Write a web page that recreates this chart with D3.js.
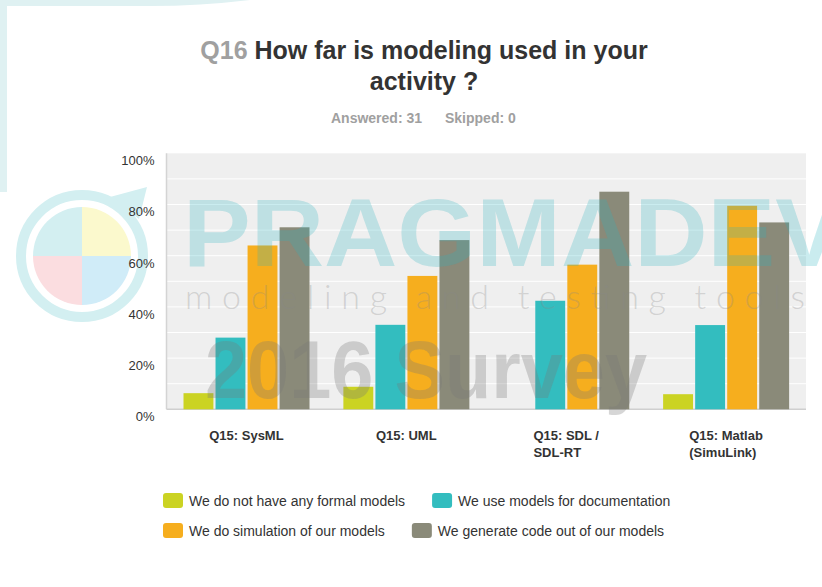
<!DOCTYPE html>
<html><head><meta charset="utf-8">
<script src="https://cdn.jsdelivr.net/npm/d3@7"></script>
<style>
html,body{margin:0;padding:0;background:#fff;}
svg{display:block;}
text{font-family:"Liberation Sans",Arial,sans-serif;}
</style></head>
<body><svg id="chart" width="822" height="587"></svg>
<script>
// ---- data ----
const categories = ["Q15: SysML", "Q15: UML", "Q15: SDL / SDL-RT", "Q15: Matlab (SimuLink)"];
const categoryLines = [["Q15: SysML"], ["Q15: UML"], ["Q15: SDL /", "SDL-RT"], ["Q15: Matlab", "(SimuLink)"]];
const seriesNames = ["We do not have any formal models", "We use models for documentation",
                     "We do simulation of our models", "We generate code out of our models"];
const seriesColors = ["#cbd323", "#33bdbf", "#f6ae1e", "#8a8a79"];
const noFormalModels = [6.3, 8.8, 0, 5.9];
const documentation  = [28.0, 33.0, 42.4, 32.9];
const simulation     = [64.0, 52.1, 56.5, 79.5];
const codeGeneration = [71.1, 66.1, 85.0, 73.0];
const seriesValues = [noFormalModels, documentation, simulation, codeGeneration];
const yTicks = [0, 20, 40, 60, 80, 100];
const gridTicks = [10, 20, 30, 40, 50, 60, 70, 80, 90];

const svg = d3.select("#chart");

// ---- background watermark (logo, strips) ----
const bgG = svg.append("g");
bgG.append("rect").attr("x", 0).attr("y", 0).attr("width", 7).attr("height", 192).attr("fill", "#dff1f2");
bgG.append("path").attr("d", "M0,0 L250,0 Q200,6 150,6 L0,6 Z").attr("fill", "#dff1f2");
const logo = bgG.append("g").attr("transform", "translate(82,256)");
logo.append("path").attr("d", "M28,-59 L65,-69 L57,-37 Z").attr("fill", "#d3eff1");
logo.append("circle").attr("r", 61).attr("fill", "none").attr("stroke", "#d3eff1").attr("stroke-width", 10);
const quadColors = ["#fbf9cd", "#d0ecf8", "#fbdde0", "#d3eff1"];
const arc = d3.arc().innerRadius(0).outerRadius(49);
quadColors.forEach((c, i) => {
  logo.append("path").attr("d", arc({startAngle: i * Math.PI / 2, endAngle: (i + 1) * Math.PI / 2})).attr("fill", c);
});

// ---- titles ----
const title = svg.append("text").attr("x", 424).attr("y", 59).attr("text-anchor", "middle")
  .style("font-size", "25px").style("font-weight", "bold");
title.append("tspan").attr("fill", "#a0a0a0").text("Q16 ");
title.append("tspan").attr("fill", "#333").text("How far is modeling used in your");
svg.append("text").attr("x", 424).attr("y", 90).attr("text-anchor", "middle")
  .style("font-size", "25px").style("font-weight", "bold").attr("fill", "#333").text("activity ?");
svg.append("text").attr("x", 331).attr("y", 123).style("font-size", "14px").style("font-weight", "bold")
  .attr("fill", "#a0a0a0").text("Answered: 31");
svg.append("text").attr("x", 445).attr("y", 123).style("font-size", "14px").style("font-weight", "bold")
  .attr("fill", "#a0a0a0").text("Skipped: 0");

// ---- scales ----
const plotL = 166.5, plotR = 806, plotT = 153.3, plotB = 409.3;
const y = d3.scaleLinear().domain([0, 100]).range([plotB, plotT]);
const x0 = d3.scaleBand().domain(categories).range([plotL, plotR]);
const x1 = d3.scaleBand().domain(seriesNames).range([17, 143]).paddingInner(0.0667);

// plot background
svg.append("rect").attr("x", plotL).attr("y", plotT).attr("width", plotR - plotL).attr("height", plotB - plotT)
  .attr("fill", "#efefef");
// gridlines
svg.append("g").selectAll("line").data(gridTicks).join("line")
  .attr("x1", plotL).attr("x2", plotR).attr("y1", d => y(d)).attr("y2", d => y(d))
  .attr("stroke", "#fff").attr("stroke-width", 1);

// y axis labels
const yAxis = d3.axisLeft(y).tickValues(yTicks).tickFormat(d => d + "%").tickSize(0).tickPadding(12);
const yg = svg.append("g").attr("transform", `translate(${plotL},0)`).call(yAxis);
yg.select(".domain").remove();
yg.selectAll("text").attr("fill", "#333").style("font-size", "13px").attr("dy", "0.87em")
  .style("font-family", '"Liberation Sans",Arial,sans-serif');

// axis lines
svg.append("line").attr("x1", plotL).attr("x2", plotL).attr("y1", plotT).attr("y2", plotB)
  .attr("stroke", "#d4d4d4").attr("stroke-width", 1.5);
svg.append("line").attr("x1", plotL).attr("x2", plotR).attr("y1", plotB).attr("y2", plotB)
  .attr("stroke", "#cfcfcf").attr("stroke-width", 1.5);

// bars
const groups = svg.append("g").selectAll("g").data(categories).join("g")
  .attr("transform", d => `translate(${x0(d)},0)`);
groups.selectAll("rect").data((d, ci) => seriesNames.map((s, si) => ({s, si, v: seriesValues[si][ci]})))
  .join("rect")
  .attr("x", d => x1(d.s)).attr("width", x1.bandwidth())
  .attr("y", d => y(d.v)).attr("height", d => plotB - y(d.v))
  .attr("fill", d => seriesColors[d.si]);

// category labels
categories.forEach((c, i) => {
  const t = svg.append("text").style("font-size", "13px").style("font-weight", "bold").attr("fill", "#333");
  categoryLines[i].forEach((ln, j) => {
    t.append("tspan").attr("y", 440 + j * 17).text(ln);
  });
  let w = 0;
  t.selectAll("tspan").each(function () { w = Math.max(w, this.getComputedTextLength()); });
  const cx = x0(c) + x0.bandwidth() / 2;
  t.selectAll("tspan").attr("x", cx - w / 2);
});

// ---- legend ----
const legendRows = [[0, 1], [2, 3]];
legendRows.forEach((row, ri) => {
  let lx = 163;
  const ly = 493 + ri * 30;
  row.forEach(si => {
    svg.append("rect").attr("x", lx).attr("y", ly).attr("width", 20).attr("height", 15).attr("rx", 3)
      .attr("fill", seriesColors[si]);
    const t = svg.append("text").attr("x", lx + 26).attr("y", ly + 12.5).style("font-size", "14px")
      .attr("fill", "#333").text(seriesNames[si]);
    lx += 26 + t.node().getComputedTextLength() + 27;
  });
});

// ---- translucent watermark texts over chart ----
const wm = svg.append("g").style("pointer-events", "none");
wm.append("text").attr("x", 183).attr("y", 266).attr("textLength", 660).attr("lengthAdjust", "spacingAndGlyphs")
  .style("font-size", "96px").style("font-weight", "bold").attr("fill", "#2ab5c0").attr("fill-opacity", 0.25)
  .text("PRAGMADEV");
wm.append("text").attr("x", 185).attr("y", 309).attr("textLength", 620).attr("lengthAdjust", "spacing")
  .style("font-size", "34px").style("font-weight", "300").style("font-family", "Lato, sans-serif")
  .attr("fill", "#888").attr("fill-opacity", 0.3).text("modeling and testing tools");
wm.append("text").attr("x", 205).attr("y", 398).attr("textLength", 442).attr("lengthAdjust", "spacingAndGlyphs")
  .style("font-size", "81px").style("font-weight", "bold").attr("fill", "#777").attr("fill-opacity", 0.3)
  .text("2016 Survey");
</script></body></html>
